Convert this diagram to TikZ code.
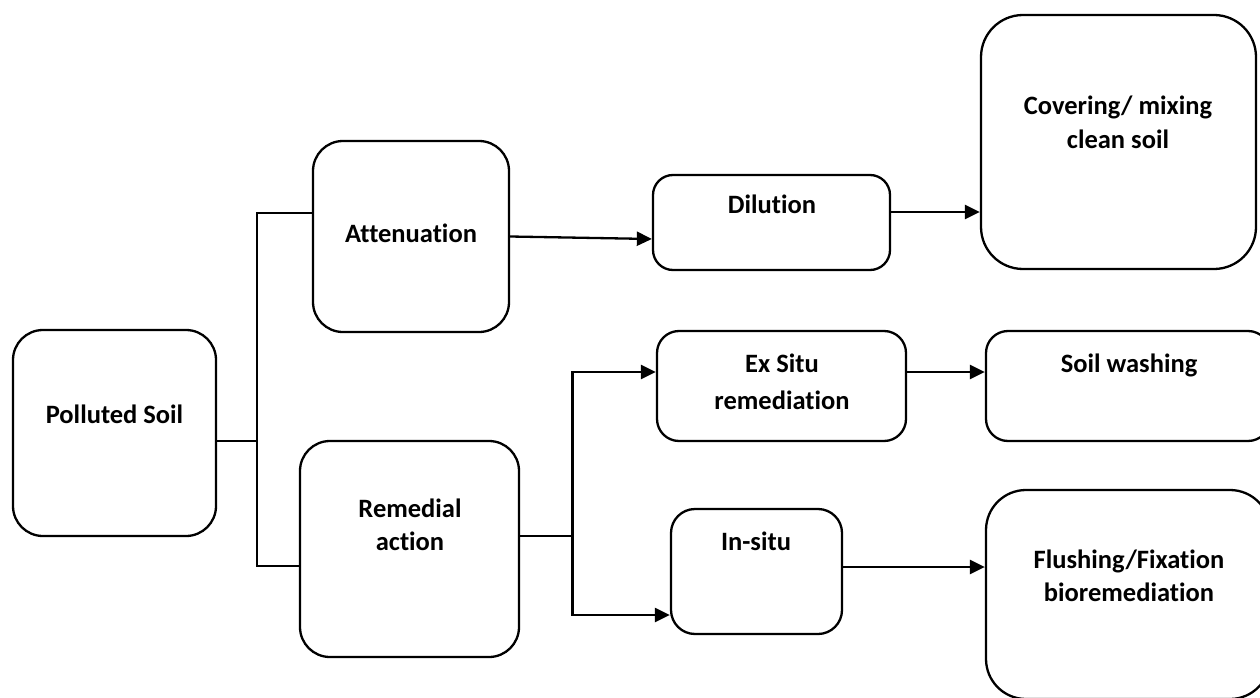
\documentclass[tikz,border=0pt]{standalone}
\usepackage{fontspec}
\setmainfont{Carlito}[Ligatures={NoCommon,NoRequired,NoContextual}]
\usetikzlibrary{arrows.meta}
\newcommand\mytwo[3][1]{{\renewcommand\arraystretch{#1}\begin{tabular}[t]{@{}c@{}}#2\\#3\end{tabular}}}
\begin{document}
\begin{tikzpicture}[x=1pt,y=-1pt,
  box/.style={draw,line width=2.3pt,rounded corners=#1,inner sep=0pt},
  box/.default=28pt,
  lbl/.style={anchor=base,inner sep=0pt,font=\fontsize{26.5}{33}\selectfont\bfseries},
  con/.style={line width=2.3pt},
  arr/.style={line width=2.3pt,-{Triangle[length=15pt,width=14pt]}}]
\useasboundingbox (0,0) rectangle (1260,698);
\clip (0,0) rectangle (1260,698);
% boxes
\node[box=30pt,minimum width=203pt,minimum height=206pt] (ps) at (114.5,433) {};
\node[box=30pt,minimum width=196pt,minimum height=191pt] (att) at (411,236.5) {};
\node[box=30pt,minimum width=219pt,minimum height=216pt] (rem) at (409.5,549) {};
\node[box=20pt,minimum width=237pt,minimum height=95pt] (dil) at (771.5,222.5) {};
\node[box=42pt,minimum width=275pt,minimum height=254pt] (cov) at (1118.5,142) {};
\node[box=22pt,minimum width=249pt,minimum height=110pt] (exs) at (781.5,386) {};
\node[box=22pt,minimum width=284pt,minimum height=110pt] (sw) at (1128,386) {};
\node[box=24pt,minimum width=171pt,minimum height=125pt] (ins) at (756.5,571.5) {};
\node[box=40pt,minimum width=284pt,minimum height=209pt] (fl) at (1128,594.5) {};
% labels
\node[lbl] at (114.5,423) {Polluted Soil};
\node[lbl] at (411,242) {Attenuation};
\node[lbl] at (410,517) {\mytwo{Remedial}{action}};
\node[lbl] at (772,213) {Dilution};
\node[lbl] at (1118,115) {\mytwo{Covering/ mixing}{clean soil}};
\node[lbl] at (782,372) {\mytwo[1.14]{Ex Situ}{remediation}};
\node[lbl] at (1129,372) {Soil washing};
\node[lbl] at (756,550) {In-situ};
\node[lbl] at (1129,568) {\mytwo{Flushing/Fixation}{bioremediation}};
% junctions
\coordinate (j1) at (257,441);
\coordinate (j2) at (572.5,536);
% connectors
\draw[con] (ps.east |- j1) -- (j1);
\draw[con] (att.west |- 0,213) -| (j1) |- (rem.west |- 0,566);
\draw[arr] (att.east) -- (dil.west |- 0,239);
\draw[arr] (dil.east |- 0,212) -- (cov.west |- 0,212);
\draw[con] (rem.east |- j2) -- (j2);
\draw[arr] (j2) |- (exs.west |- 0,372);
\draw[arr] (j2) |- (ins.west |- 0,615);
\draw[arr] (exs.east |- 0,372) -- (sw.west |- 0,372);
\draw[arr] (ins.east |- 0,567) -- (fl.west |- 0,567);
\end{tikzpicture}
\end{document}
